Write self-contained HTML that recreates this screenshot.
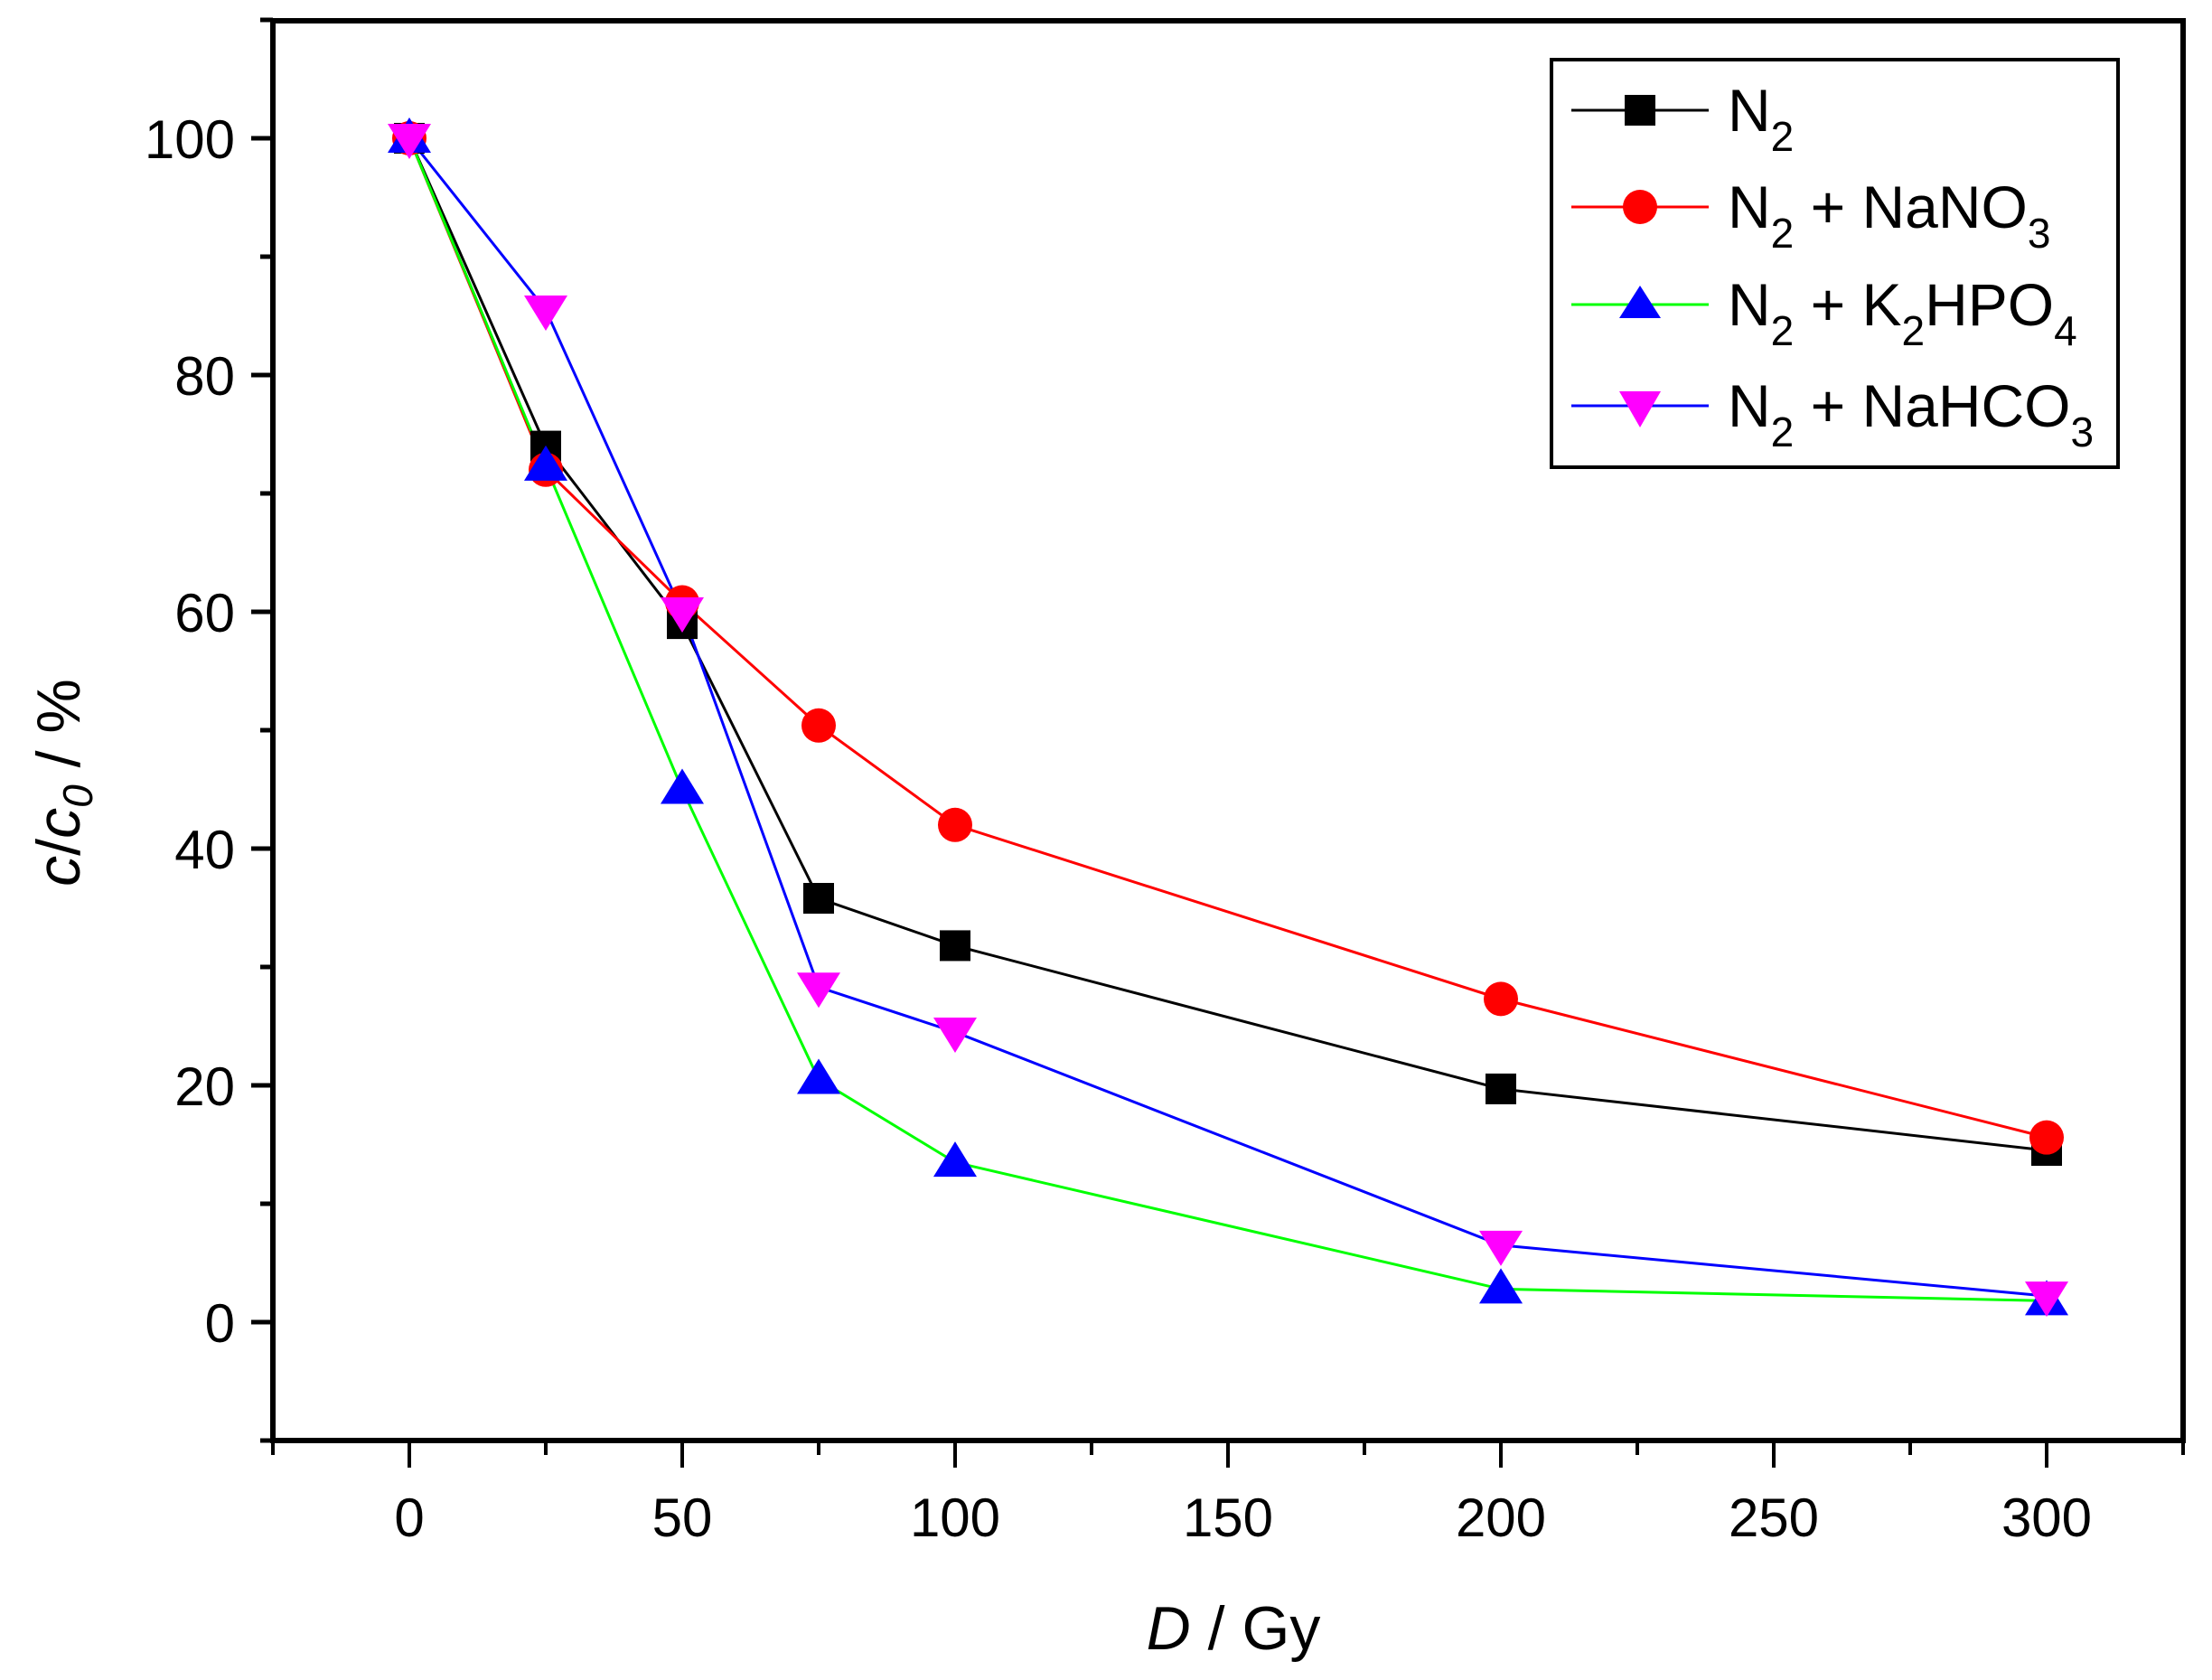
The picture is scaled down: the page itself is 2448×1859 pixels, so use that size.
<!DOCTYPE html>
<html><head><meta charset="utf-8"><style>
html,body{margin:0;padding:0;background:#fff;}
svg{display:block;font-family:"Liberation Sans",Arial,sans-serif;}
</style></head><body>
<svg id="s" width="2448" height="1859" viewBox="0 0 2448 1859" xmlns="http://www.w3.org/2000/svg">
<rect width="2448" height="1859" fill="#fff"/>
<g id="g"></g>
<rect x="1717" y="66" width="627" height="451" fill="#fff" stroke="#000" stroke-width="4"/>
<g stroke-width="3">
<line x1="1739" y1="122" x2="1891" y2="122" stroke="#000"/>
<rect x="1798" y="105" width="34" height="34" fill="#000"/>
<line x1="1739" y1="229" x2="1891" y2="229" stroke="#f00"/>
<ellipse cx="1815" cy="229" rx="19" ry="19" fill="#f00"/>
<line x1="1739" y1="337" x2="1891" y2="337" stroke="#0f0"/>
<polygon points="1815,316 1838,352 1792,352" fill="#00f"/>
<line x1="1739" y1="449" x2="1891" y2="449" stroke="#00f"/>
<polygon points="1792,433 1838,433 1815,473" fill="#f0f"/>
</g>
<g font-size="66" fill="#000">
<text x="1912" y="145">N<tspan font-size="46" dy="22">2</tspan></text>
<text x="1912" y="252">N<tspan font-size="46" dy="22">2</tspan><tspan dy="-22"> + NaNO</tspan><tspan font-size="46" dy="22">3</tspan></text>
<text x="1912" y="360">N<tspan font-size="46" dy="22">2</tspan><tspan dy="-22"> + K</tspan><tspan font-size="46" dy="22">2</tspan><tspan dy="-22">HPO</tspan><tspan font-size="46" dy="22">4</tspan></text>
<text x="1912" y="472">N<tspan font-size="46" dy="22">2</tspan><tspan dy="-22"> + NaHCO</tspan><tspan font-size="46" dy="22">3</tspan></text>
</g>
<text x="1365" y="1825" font-size="68" text-anchor="middle"><tspan font-style="italic">D</tspan> / Gy</text>
<text transform="translate(88,866) rotate(-90)" font-size="68" text-anchor="middle"><tspan font-style="italic">c</tspan>/<tspan font-style="italic">c</tspan><tspan font-style="italic" font-size="46" dy="14">0</tspan><tspan dy="-14"> / %</tspan></text>
</svg>
<script>
var X=function(v){return 453+v*6.04},Y=function(v){return 1463-v*13.1};
var L=302,R=2416,T=23,B=1594,h='';
h+='<rect x="'+L+'" y="'+T+'" width="'+(R-L)+'" height="'+(B-T)+'" fill="none" stroke="#000" stroke-width="6"/>';
for(var v=-10;v<=110;v+=10){var y=Y(v),maj=(v%20==0&&v>=0&&v<=100);h+='<line x1="'+(L-(maj?24:14))+'" y1="'+y+'" x2="'+L+'" y2="'+y+'" stroke="#000" stroke-width="5"/>';if(maj)h+='<text x="'+(L-42)+'" y="'+(y+22)+'" font-size="60" text-anchor="end">'+v+'</text>';}
for(var v=-25;v<=325;v+=25){var x=X(v),maj=(v%50==0&&v>=0&&v<=300);h+='<line x1="'+x+'" y1="'+B+'" x2="'+x+'" y2="'+(B+(maj?30:16))+'" stroke="#000" stroke-width="4"/>';if(maj)h+='<text x="'+x+'" y="'+1700+'" font-size="60" text-anchor="middle">'+v+'</text>';}
var xs=[0,25,50,75,100,200,300];
var S=[
{l:'#000',f:'#000',m:'sq',d:[100,74,59,35.8,31.8,19.7,14.5]},
{l:'#f00',f:'#f00',m:'ci',d:[100,72,60.8,50.4,42,27.3,15.6]},
{l:'#0f0',f:'#00f',m:'up',d:[100,72.3,45,20.5,13.5,2.8,1.8]},
{l:'#00f',f:'#f0f',m:'dn',d:[100,85.5,60,28.3,24.5,6.5,2.2]}];
S.forEach(function(s){var p=xs.map(function(x,i){return X(x)+','+Y(s.d[i])}).join(' ');
h+='<polyline points="'+p+'" fill="none" stroke="'+s.l+'" stroke-width="3"/>';});
S.forEach(function(s){xs.forEach(function(x,i){var cx=X(x),cy=Y(s.d[i]);
if(s.m=='sq')h+='<rect x="'+(cx-17)+'" y="'+(cy-17)+'" width="34" height="34" fill="'+s.f+'"/>';
if(s.m=='ci')h+='<circle cx="'+cx+'" cy="'+cy+'" r="19" fill="'+s.f+'"/>';
if(s.m=='up')h+='<polygon points="'+cx+','+(cy-23)+' '+(cx+24)+','+(cy+16)+' '+(cx-24)+','+(cy+16)+'" fill="'+s.f+'"/>';
if(s.m=='dn')h+='<polygon points="'+(cx-24)+','+(cy-16)+' '+(cx+24)+','+(cy-16)+' '+cx+','+(cy+23)+'" fill="'+s.f+'"/>';});});
document.getElementById('g').innerHTML=h;
</script>
</body></html>
